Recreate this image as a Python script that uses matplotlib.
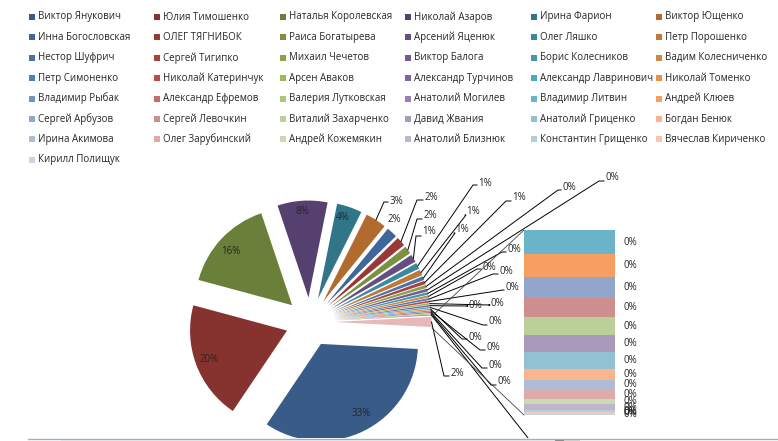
import matplotlib
matplotlib.use('Agg')
import matplotlib.pyplot as plt
from matplotlib.patches import Rectangle
from math import cos, sin, radians

W, H = 778, 441

names = [
    'Виктор Янукович', 'Юлия Тимошенко', 'Наталья Королевская', 'Николай Азаров', 'Ирина Фарион', 'Виктор Ющенко',
    'Инна Богословская', 'ОЛЕГ ТЯГНИБОК', 'Раиса Богатырева', 'Арсений Яценюк', 'Олег Ляшко', 'Петр Порошенко',
    'Нестор Шуфрич', 'Сергей Тигипко', 'Михаил Чечетов', 'Виктор Балога', 'Борис Колесников', 'Вадим Колесниченко',
    'Петр Симоненко', 'Николай Катеринчук', 'Арсен Аваков', 'Александр Турчинов', 'Александр Лавринович', 'Николай Томенко',
    'Владимир Рыбак', 'Александр Ефремов', 'Валерия Лутковская', 'Анатолий Могилев', 'Владимир Литвин', 'Андрей Клюев',
    'Сергей Арбузов', 'Сергей Левочкин', 'Виталий Захарченко', 'Давид Жвания', 'Анатолий Гриценко', 'Богдан Бенюк',
    'Ирина Акимова', 'Олег Зарубинский', 'Андрей Кожемякин', 'Анатолий Близнюк', 'Константин Грищенко', 'Вячеслав Кириченко',
    'Кирилл Полищук',
]

# percent of votes, first 28 go in the pie
pie_values = [33.5, 19.7, 15.6, 8.3, 4.2, 3.5, 1.8, 1.55, 1.3, 1.3, 1.0, 0.95,
              0.62, 0.57, 0.52, 0.47, 0.42, 0.38, 0.33, 0.31, 0.28, 0.26, 0.24, 0.22, 0.2, 0.19, 0.17, 0.15]
# the rest are in the "other" slice and in the bar
bar_values = [0.217, 0.208, 0.19, 0.172, 0.163, 0.153, 0.153, 0.1, 0.081, 0.09, 0.045, 0.054, 0.018, 0.013, 0.013]

blues = ['#385b88', '#41669a', '#4a72a8', '#4f7fbc', '#7293c3', '#92a6cc', '#b0bcd6', '#c9d1e2']
reds = ['#86322f', '#983936', '#a94140', '#bb4a48', '#c36e6c', '#ce8e8d', '#dcabaa']
greens = ['#6a7f3a', '#7a9240', '#89a348', '#9bbb59', '#acc776', '#bbcf98', '#ccd9b5']
purples = ['#56406f', '#654e80', '#745c93', '#8064a2', '#9680b2', '#a99ab9', '#bfb5cd']
teals = ['#317688', '#398a9f', '#4398ae', '#4bacc6', '#6ab3c9', '#92c1d3', '#b0cfdb']
oranges = ['#b26b2e', '#c0783a', '#d08840', '#e8934b', '#f79f63', '#fab58c', '#f6c8ad']
families = [blues, reds, greens, purples, teals, oranges]
colors = [families[i % 6][i // 6] for i in range(len(names))]

# labels with a leader: text centre and knee, in image pixels
pct_leader = ['3%', '2%', '2%', '1%', '1%', '1%', '1%', '1%', '0%', '0%', '0%', '0%', '0%', '0%', '0%', '0%', '0%', '0%', '0%', '0%', '0%']
leader_idx = [5, 7, 8, 9, 10, 11, 12, 13, 14, 15, 16, 17, 18, 19, 20, 21, 22, 23, 24, 25, 26]
leader_text = [(396, 202), (431, 197), (430, 215), (429, 232), (485, 183), (473, 212), (462, 229), (519, 197),
               (569, 187), (612, 178), (514, 249), (489, 267), (506, 271), (512, 287), (497, 303), (475, 306),
               (495, 322), (475, 337), (493, 347), (495, 366), (504, 382)]
leader_knee = [(384, 202), (417, 200), (417, 219), (416, 236), (473, 185), (466, 215), (455, 233), (506, 201),
               (558, 190), (599, 181), (502, 252), (477, 269), (493, 274), (503, 290), (490, 305), (468, 306),
               (483, 325), (462, 339), (480, 350), (482, 368), (491, 385)]
# labels sitting on the slices
inner_idx = [0, 1, 2, 3, 4, 6]
inner_pct = ['33%', '20%', '16%', '8%', '4%', '2%']
inner_pos = [(361, 414), (209, 360), (231, 251), (302, 212), (343, 218), (394, 219)]


def py(y):
    return H - y


def wedge_end(w):
    a = radians((w.theta1 + w.theta2) / 2)
    return w.center[0] + w.r * cos(a), w.center[1] + w.r * sin(a)


plt.rcParams['font.family'] = ['Open Sans', 'DejaVu Sans']
FS = 7.0
TXT = '#262626'

fig = plt.figure(figsize=(W / 100, H / 100), dpi=100)
ax = fig.add_axes([0, 0, 1, 1])

other = sum(bar_values)
values = pie_values + [other]
explode = [24.5] * len(values)  # pie does not scale this by radius
wedges, _ = ax.pie(values, explode=explode, colors=colors[:28] + ['#e6b9b8'], startangle=-3, counterclock=False,
                   radius=97, center=(310, py(322)), normalize=True)
ax.set_aspect('equal')
ax.set_xlim(0, W)
ax.set_ylim(0, H)
ax.axis('off')

# legend, filled row by row
for i, name in enumerate(names):
    x = 29 + 125.4 * (i % 6)
    y = 17 + 20.4 * (i // 6)
    ax.add_patch(Rectangle((x, py(y + 3)), 6, 6, color=colors[i], lw=0))
    ax.text(x + 9, py(y), name, fontsize=FS, color=TXT, va='center', ha='left')

for i, pct, (x, y) in zip(inner_idx, inner_pct, inner_pos):
    ax.text(x, py(y), pct, fontsize=FS, color=TXT, ha='center', va='center')

for i, pct, (tx, ty), (kx, ky) in zip(leader_idx, pct_leader, leader_text, leader_knee):
    sx, sy = wedge_end(wedges[i])
    ax.plot([sx, kx, tx - 8], [sy, py(ky), py(ky)], color='black', lw=0.7)
    ax.text(tx, py(ty), pct, fontsize=FS, color=TXT, ha='center', va='center')

# last pie slice, its label is cut off by the window
sx, sy = wedge_end(wedges[27])
ax.plot([sx, 528], [sy, py(438)], color='black', lw=0.7)

# other slice label
sx, sy = wedge_end(wedges[28])
ax.plot([sx, 444, 449], [sy, py(376), py(376)], color='black', lw=0.7)
ax.text(457, py(373), '2%', fontsize=FS, color=TXT, ha='center', va='center')

# series lines to the bar
ax.plot([432, 524], [py(316), py(230)], color='#444444', lw=0.6)
ax.plot([432, 524], [py(328), py(415)], color='#444444', lw=0.6)

# stacked bar
bax = fig.add_axes([524 / W, (H - 415) / H, 91 / W, 185 / H])
bottom = 0
for i, v in enumerate(bar_values):
    bax.bar(0, v, bottom=bottom, width=1, color=colors[28 + i], lw=0)
    bax.text(1.0 + 15 / 91, bottom + v / 2, '0%', transform=bax.get_yaxis_transform(), fontsize=FS, color=TXT,
             ha='center', va='center', clip_on=False)
    bottom += v
bax.set_xlim(-0.5, 0.5)
bax.set_ylim(other, 0)
bax.axis('off')

# window edge at the bottom of the screenshot
ax.add_patch(Rectangle((0, 0), W, py(438), color='white', lw=0, zorder=5))
ax.plot([28, W], [py(439), py(439)], color='#a9aeb3', lw=1, zorder=6)
ax.add_patch(Rectangle((61, 0), 494, 1.5, color='#dfe4ea', lw=0, zorder=6))
ax.add_patch(Rectangle((555, 0), 9, 1.5, color='#8c8c8c', lw=0, zorder=6))
ax.add_patch(Rectangle((564, 0), 16, 1.5, color='#cfcfcf', lw=0, zorder=6))

fig.savefig('out.png', dpi=100)
